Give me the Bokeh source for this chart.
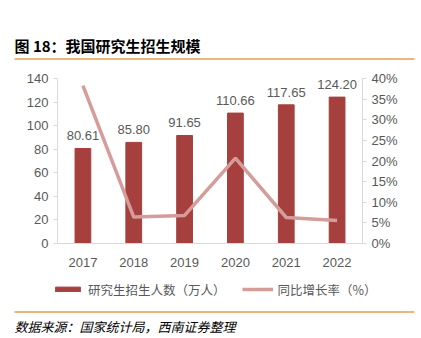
from bokeh.plotting import figure
from bokeh.layouts import column
from bokeh.models import (Range1d, LinearAxis, ColumnDataSource, Legend, LegendItem,
                          FixedTicker, NumeralTickFormatter)
from bokeh.core.properties import value
from bokeh.embed import file_html
from bokeh.resources import INLINE

years = ["2017", "2018", "2019", "2020", "2021", "2022"]
enroll = [80.61, 85.80, 91.65, 110.66, 117.65, 124.20]
growth = [0.383, 0.064, 0.068, 0.207, 0.063, 0.056]
enroll_labels = ["80.61", "85.80", "91.65", "110.66", "117.65", "124.20"]
series_names = ["研究生招生人数（万人）", "同比增长率（%）"]
title_text = "图 18：我国研究生招生规模"
source_text = "数据来源：国家统计局，西南证券整理"

BAR = "#A5403E"
LINE = "#D59C9A"
TXT = "#595959"
AX = "#D9D9D9"
RULE = "#DFA050"
NUMF = "Liberation Sans, Arial, Noto Sans CJK SC"
CJK = "Noto Sans CJK SC"
W = 421


def blank(h):
    f = figure(width=W, height=h, x_range=Range1d(0, W), y_range=Range1d(h, 0),
               output_backend="svg", toolbar_location=None, min_border=0)
    f.frame_align = False
    f.axis.visible = False
    f.grid.visible = False
    f.outline_line_color = None
    return f


# header (canvas y 0..60)
top = blank(60)
top.text(x=[14], y=[45], text=[title_text], text_font=value(CJK), text_font_style="bold",
         text_font_size="15px", text_color="#000000", text_baseline="middle")
top.segment(x0=[14], y0=[58.5], x1=[414], y1=[58.5], line_color=RULE, line_width=1.5)

# main chart (canvas y 60..270)
src = ColumnDataSource(dict(x=years, y=enroll, g=growth, lab=enroll_labels))
p = figure(width=W, height=210, x_range=years, y_range=Range1d(0, 140),
           output_backend="svg", toolbar_location=None,
           min_border_left=57, min_border_right=59, min_border_top=18, min_border_bottom=27)
p.frame_align = False
p.outline_line_color = None
p.xgrid.grid_line_color = None
p.ygrid.grid_line_color = None
p.extra_y_ranges = {"pct": Range1d(0, 0.4)}

p.vbar(x="x", top="y", width=0.31, source=src, fill_color=BAR, line_color=BAR)
p.line(x="x", y="g", source=src, y_range_name="pct", line_color=LINE, line_width=3.5)
p.text(x="x", y="y", text="lab", source=src, text_align="center", text_baseline="bottom",
       y_offset=-8, text_font=value(NUMF), text_font_size="13px", text_color=TXT)

la = p.yaxis[0]
la.ticker = FixedTicker(ticks=list(range(0, 141, 20)))
ra = LinearAxis(y_range_name="pct", ticker=FixedTicker(ticks=[i * 0.05 for i in range(9)]),
                formatter=NumeralTickFormatter(format="0%"))
p.add_layout(ra, "right")
for ax in (la, ra):
    ax.axis_line_color = AX
    ax.major_tick_line_color = AX
    ax.major_tick_out = 4
    ax.major_tick_in = 0
    ax.minor_tick_line_color = None
    ax.major_label_text_font = NUMF
    ax.major_label_text_font_size = "13px"
    ax.major_label_text_color = TXT

xa = p.xaxis[0]
xa.axis_line_color = AX
xa.major_tick_line_color = None
xa.major_label_text_font = NUMF
xa.major_label_text_font_size = "13px"
xa.major_label_text_color = TXT
xa.major_label_standoff = 8

# footer (canvas y 270..338): legend, rule, source
bot = blank(68)
# legend-only renderers, placed far outside the visible range
leg_src = ColumnDataSource(dict(x=[-5000, -4000], y=[5000, 5000]))
r_bar = bot.vbar(x="x", top="y", bottom="y", width=1, source=leg_src, fill_color=BAR, line_color=BAR)
r_line = bot.line(x="x", y="y", source=leg_src, line_color=LINE, line_width=3.5)
legend = Legend(items=[LegendItem(label=series_names[0], renderers=[r_bar], index=0),
                       LegendItem(label=series_names[1], renderers=[r_line])],
                orientation="horizontal", location=(52, 39),
                label_text_font=CJK, label_text_font_size="12.5px", label_text_color=TXT,
                glyph_width=31, glyph_height=6, spacing=16, border_line_color=None,
                background_fill_alpha=0, padding=0, margin=0, label_standoff=5,
                label_height=20)
bot.add_layout(legend, "center")
bot.segment(x0=[14], y0=[41.5], x1=[414], y1=[41.5], line_color=RULE, line_width=1.5)
bot.text(x=[14], y=[56], text=[source_text], text_font=value(CJK), text_font_style="italic",
         text_font_size="13px", text_color="#000000", text_baseline="middle")

layout = column(top, p, bot, spacing=0)
open("out.html", "w").write(file_html(layout, INLINE))
